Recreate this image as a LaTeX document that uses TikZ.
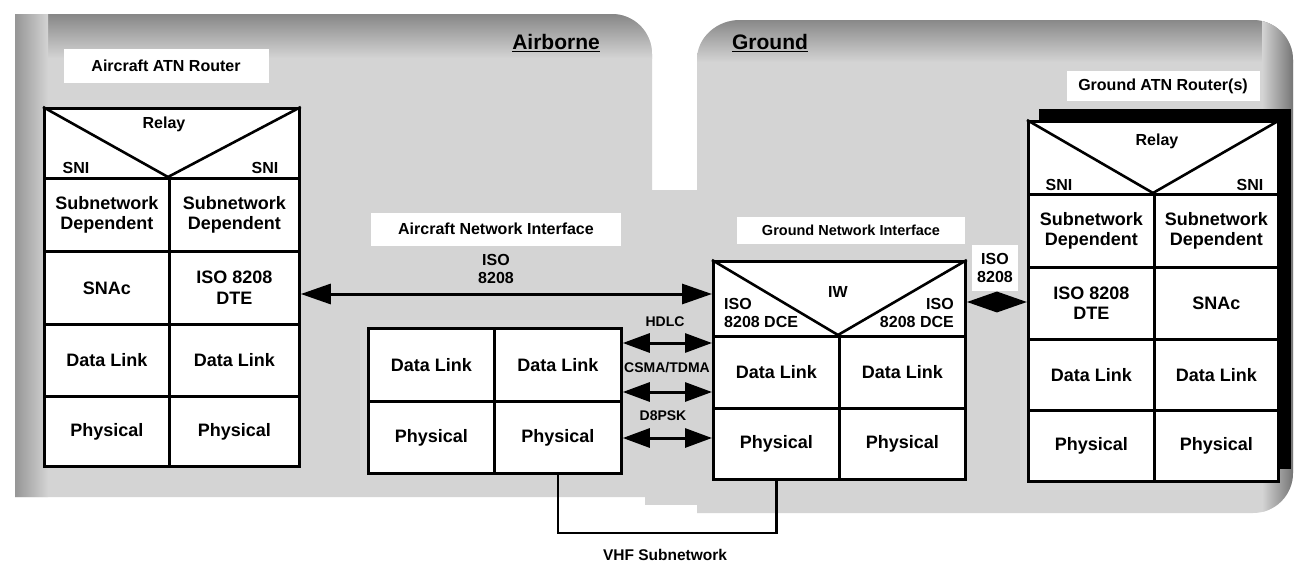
\documentclass[tikz,border=0pt]{standalone}
\usepackage{fontspec}
\setmainfont{Liberation Sans}
\usetikzlibrary{arrows.meta,calc}

\newcommand\fcell{\fontsize{18}{20.5}\selectfont\bfseries}
\newcommand\fsmall{\fontsize{16}{18.5}\selectfont\bfseries}
\newcommand\flabel{\fontsize{16}{18}\selectfont\bfseries}
\newcommand\fproto{\fontsize{14}{16}\selectfont\bfseries}
\newcommand\fregion{\fontsize{21}{24}\selectfont\bfseries}
% one stack cell: name, x, y (top-left), width, height, text
\newcommand\mkcell[6]{\node[cell, minimum width=#4pt, minimum height=#5pt] (#1) at (#2,#3) {#6};}

\begin{document}
\begin{tikzpicture}[x=1pt,y=-1pt,
  cell/.style={draw, line width=2.8pt, fill=white, inner sep=0pt, anchor=north west, align=center, font=\fcell},
  vee/.style={line width=2.6pt, line join=miter},
  tsm/.style={font=\fsmall, inner sep=0pt, align=center},
  lbl/.style={fill=white, font=\flabel, inner sep=0pt},
  proto/.style={font=\fproto, inner sep=0pt},
  regionlbl/.style={font=\fregion, inner sep=0pt},
  bigarrow/.style={line width=3pt, {Triangle[length=30pt,width=20pt]}-{Triangle[length=30pt,width=20pt]}},
  smarrow/.style={line width=3pt, {Triangle[length=27pt,width=19pt]}-{Triangle[length=27pt,width=19pt]}},
  wire/.style={line width=2.6pt},
  regionfill/.style={fill=black!17}
]
\useasboundingbox (0,0) rectangle (1298,562);
\fill[white] (0,0) rectangle (1298,562);

% ---- shaded domains ----
\def\airpath{(15,14) -- (612,14) to[out=0,in=90] (652,54) -- (652,497) -- (15,497) -- cycle}
\def\gndpath{(697,60) to[out=90,in=180] (740,20) -- (1253,20) to[out=0,in=90] (1293,60) -- (1293,473) to[out=-90,in=0] (1253,513) -- (697,513) -- cycle}
\fill[regionfill] \airpath;
\fill[regionfill] \gndpath;
\fill[regionfill] (645,190) rectangle (705,505);
\begin{scope}
  \clip \airpath;
  \shade[top color=black!50, bottom color=black!17] (0,10) rectangle (660,58);
  \shade[left color=black!45, right color=black!17] (10,10) rectangle (48,500);
\end{scope}
\begin{scope}
  \clip \gndpath;
  \shade[top color=black!50, bottom color=black!17] (690,15) rectangle (1298,62);
  \shade[left color=black!17, right color=black!60] (1262,15) rectangle (1298,515);
\end{scope}

\node[regionlbl] (airborne) at (556,43) {\underline{Airborne}};
\node[regionlbl] (ground) at (770,43) {\underline{Ground}};

% ---- white captions ----
\node[lbl, minimum width=205pt, minimum height=34pt] (acr) at (166,66) {Aircraft ATN Router};
\node[lbl, minimum width=250pt, minimum height=33pt] (ani) at (496,229) {Aircraft Network Interface};
\node[lbl, minimum width=228pt, minimum height=27pt, font=\fontsize{14.5}{16}\selectfont\bfseries] (gni) at (851,230) {Ground Network Interface};
\node[lbl, minimum width=193pt, minimum height=30pt] (gar) at (1163,86) {Ground ATN Router(s)};

% ---- aircraft ATN router ----
\mkcell{lr-relay}{43}{107}{255}{70}{}
\mkcell{lr-sd1}{43}{177}{125}{73}{Subnetwork\\Dependent}
\mkcell{lr-sd2}{168}{177}{130}{73}{Subnetwork\\Dependent}
\mkcell{lr-snac}{43}{250}{125}{73}{SNAc}
\mkcell{lr-dte}{168}{250}{130}{73}{ISO 8208\\DTE}
\mkcell{lr-dl1}{43}{323}{125}{72}{Data Link}
\mkcell{lr-dl2}{168}{323}{130}{72}{Data Link}
\mkcell{lr-ph1}{43}{395}{125}{70}{Physical}
\mkcell{lr-ph2}{168}{395}{130}{70}{Physical}
\draw[vee] (lr-relay.north west) -- (lr-sd2.north west) -- (lr-relay.north east);
\node[tsm] (lr-relay-t) at (164,124) {Relay};
\node[tsm] (lr-sni1) at (76,168) {SNI};
\node[tsm] (lr-sni2) at (265,168) {SNI};

% ---- aircraft network interface ----
\mkcell{ai-dl1}{367}{327}{126}{73}{Data Link}
\mkcell{ai-dl2}{493}{327}{127}{73}{Data Link}
\mkcell{ai-ph1}{367}{400}{126}{72}{Physical}
\mkcell{ai-ph2}{493}{400}{127}{72}{Physical}

% ---- ground interworking unit ----
\mkcell{iw-relay}{712}{260}{252}{75}{}
\mkcell{iw-dl1}{712}{335}{126}{72}{Data Link}
\mkcell{iw-dl2}{838}{335}{126}{72}{Data Link}
\mkcell{iw-ph1}{712}{407}{126}{71}{Physical}
\mkcell{iw-ph2}{838}{407}{126}{71}{Physical}
\draw[vee] (iw-relay.north west) -- (iw-dl2.north west) -- (iw-relay.north east);
\node[tsm] (iw-t) at (838,292) {IW};
\node[tsm, anchor=west, align=left] (iw-dce1) at (724,313) {ISO\\8208 DCE};
\node[tsm, anchor=east, align=right] (iw-dce2) at (954,313) {ISO\\8208 DCE};

% ---- ground ATN router ----
\fill[black] (1039,109) rectangle (1291,469);
\mkcell{gr-relay}{1027}{120}{250}{73}{}
\mkcell{gr-sd1}{1027}{193}{126}{73}{Subnetwork\\Dependent}
\mkcell{gr-sd2}{1153}{193}{124}{73}{Subnetwork\\Dependent}
\mkcell{gr-dte}{1027}{266}{126}{72}{ISO 8208\\DTE}
\mkcell{gr-snac}{1153}{266}{124}{72}{SNAc}
\mkcell{gr-dl1}{1027}{338}{126}{71}{Data Link}
\mkcell{gr-dl2}{1153}{338}{124}{71}{Data Link}
\mkcell{gr-ph1}{1027}{409}{126}{71}{Physical}
\mkcell{gr-ph2}{1153}{409}{124}{71}{Physical}
\draw[vee] (gr-relay.north west) -- (gr-sd2.north west) -- (gr-relay.north east);
\node[tsm] (gr-relay-t) at (1157,141) {Relay};
\node[tsm] (gr-sni1) at (1059,185) {SNI};
\node[tsm] (gr-sni2) at (1250,185) {SNI};

% ---- connections ----
\coordinate (isoY) at (0,294);
\coordinate (hY) at (0,343);
\coordinate (cY) at (0,392);
\coordinate (dY) at (0,438);
\coordinate (gY) at (0,302);
\coordinate (vhfbus) at (660,533);

\draw[bigarrow] (lr-dte.east |- isoY) -- (iw-relay.west |- isoY);
\node[tsm] (iso-a) at (496,269) {ISO\\8208};

\draw[smarrow] (ai-dl2.east |- hY) -- (iw-dl1.west |- hY);
\draw[smarrow] (ai-dl2.east |- cY) -- (iw-dl1.west |- cY);
\draw[smarrow] (ai-ph2.east |- dY) -- (iw-ph1.west |- dY);
\node[proto] (hdlc) at (665,322) {HDLC};
\node[proto] (csma) at (667,368) {CSMA/TDMA};
\node[proto] (d8psk) at (663,416) {D8PSK};

\node[lbl, minimum width=46pt, minimum height=46pt, font=\fsmall, align=center] (iso-g) at (995,268) {ISO\\8208};
\draw[bigarrow] (iw-relay.east |- gY) -- (gr-dte.west |- gY);

\draw[wire] (ai-ph2.south) |- (vhfbus) -| (iw-ph1.south);
\node[font=\fontsize{15.5}{17}\selectfont\bfseries, inner sep=0pt] (vhf) at (665,555) {VHF Subnetwork};
\end{tikzpicture}
\end{document}
